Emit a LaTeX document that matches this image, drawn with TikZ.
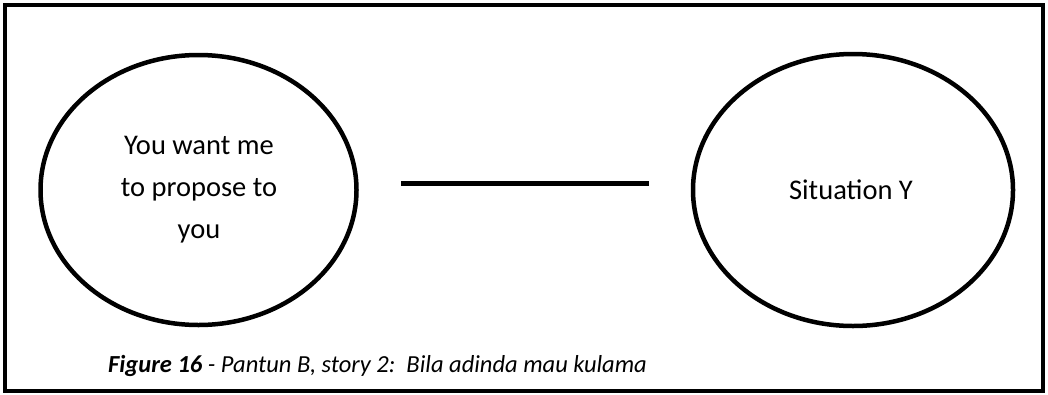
\documentclass[tikz,border=0pt]{standalone}
\usepackage{fontspec}
\setmainfont{Carlito}
\usetikzlibrary{shapes.geometric}
\begin{document}
\begin{tikzpicture}[x=1pt,y=-1pt,
  bubble/.style={draw=black, line width=4.5pt, ellipse, inner sep=0pt},
  label text/.style={align=center, inner sep=0pt, font=\fontsize{28.5}{42}\selectfont},
  link/.style={draw=black, line width=5pt},
  frame/.style={draw=black, line width=4pt},
  caption/.style={anchor=base west, inner sep=0pt, font=\fontsize{24.5}{28}\selectfont\itshape}]
\useasboundingbox (0,0) rectangle (1048,394);
\draw[frame] (5,5) rectangle (1043,391);
\node[bubble, minimum width=316pt, minimum height=270pt] (A) at (198.5,190) {};
\node[bubble, minimum width=320pt, minimum height=272pt] (B) at (853,190) {};
\node[label text] (At) at (199,190) {You want me\\to propose to\\you};
\node[label text] (Bt) at (851,190) {Situation Y};
\coordinate (l1) at (401,183);
\coordinate (l2) at (649,183);
\draw[link] (l1) -- (l2);
\node[caption] (cap) at (108,372) {\textbf{Figure 16} - Pantun B, story 2:\ \ Bila adinda mau kulama};
\end{tikzpicture}
\end{document}
